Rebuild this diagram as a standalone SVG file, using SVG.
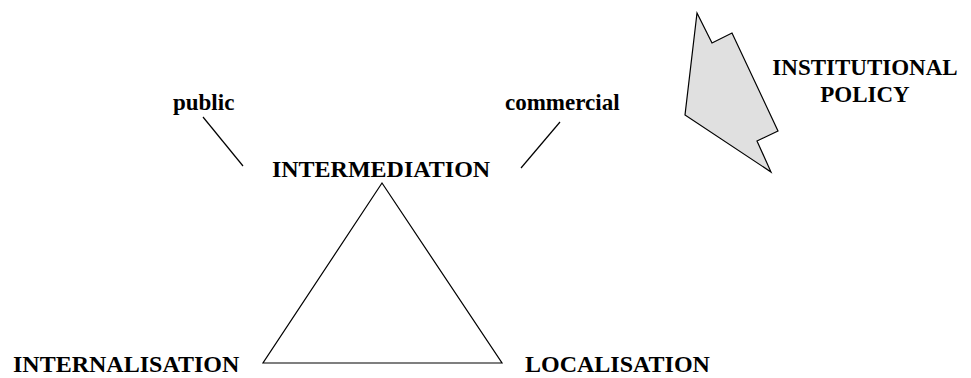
<svg xmlns="http://www.w3.org/2000/svg" width="971" height="378" viewBox="0 0 971 378">
  <style>
    text { font-family: "Liberation Serif", "Times New Roman", serif; font-weight: bold; fill: #000; }
    .big { font-size: 24px; }
    .mid { font-size: 23px; }
    .ln { stroke: #000; stroke-width: 1.2; fill: none; }
  </style>
  <rect width="971" height="378" fill="#fff"/>

  <g id="triangle">
    <polygon points="382,183 263,363 502,363" fill="#fff" stroke="#000" stroke-width="1.2"/>
  </g>

  <g id="intermediation">
    <text class="big" x="381" y="177" text-anchor="middle">INTERMEDIATION</text>
  </g>
  <g id="internalisation">
    <text class="big" x="13" y="372">INTERNALISATION</text>
  </g>
  <g id="localisation">
    <text class="big" x="525" y="372">LOCALISATION</text>
  </g>
  <g id="public">
    <text class="mid" x="173" y="110">public</text>
  </g>
  <g id="commercial">
    <text class="mid" x="505" y="110">commercial</text>
  </g>

  <g id="institutional-policy">
    <polygon points="697,13 712,43 732,33 778,131 757,141 771,172 685,115" fill="#e0e0e0" stroke="#000" stroke-width="1.2" stroke-linejoin="miter"/>
    <text class="mid" x="865" y="75" text-anchor="middle">INSTITUTIONAL</text>
    <text class="mid" x="865" y="102" text-anchor="middle">POLICY</text>
  </g>

  <g id="connectors">
    <line class="ln" x1="203" y1="117" x2="243" y2="166"/>
    <line class="ln" x1="560" y1="122" x2="521" y2="168"/>
  </g>
</svg>
